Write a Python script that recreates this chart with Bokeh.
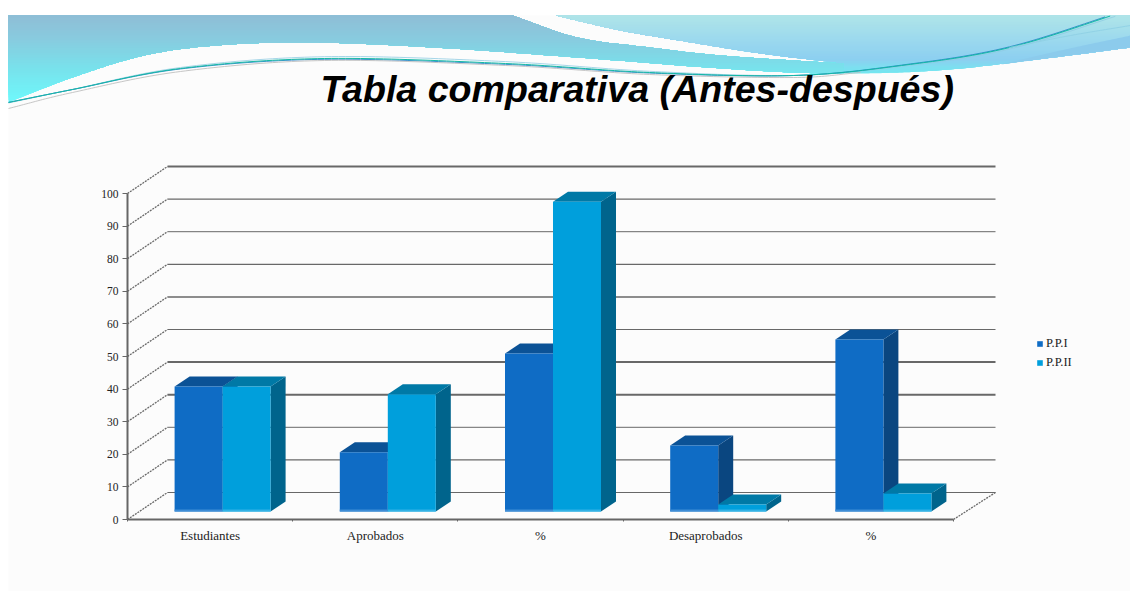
import numpy as np
from bokeh.plotting import figure
from bokeh.models import LinearAxis, FixedTicker, Label, Legend, LegendItem, Range1d
from bokeh.embed import file_html
from bokeh.resources import INLINE

# ---- data ----
categories = ["Estudiantes", "Aprobados", "%", "Desaprobados", "%"]
pp1_values = [40.8, 20.6, 50.9, 22.7, 55.2]
pp2_values = [40.8, 38.4, 97.5, 4.6, 8.0]
series_names = ["P.P.I", "P.P.II"]
y_ticks = [0, 10, 20, 30, 40, 50, 60, 70, 80, 90, 100]
title_text = "Tabla comparativa (Antes-después)"

# ---- layout ----
W, H = 1130, 591
X0, SX = 127.0, 165.2      # screenshot px of category 0, px per category
Y0, SY = 519.0, 3.26       # screenshot px of value 0, px per value
def X(px): return (np.asarray(px, dtype=float) - X0) / SX
def Y(py): return (Y0 - np.asarray(py, dtype=float)) / SY

WALL_DX, WALL_DY = 40 / SX, 27 / SY
WALL_RIGHT = 42 / SX
BAR_W = 48 / SX
BAR_DX, BAR_DY = 15 / SX, 10 / SY
BAR_CENTER = 0.5 + 12.5 / SX
FLOOR = 8 / SY

p = figure(width=W, height=H, output_backend="svg", toolbar_location=None,
           x_range=Range1d(float(X(0)), float(X(W))),
           y_range=Range1d(float(Y(H)), float(Y(0))),
           min_border=0, x_axis_type=None, y_axis_type=None,
           outline_line_color=None, background_fill_color="white",
           border_fill_color="white")
p.grid.visible = False

# ---- page backdrop and banner ----
p.quad(left=[float(X(8))], right=[float(X(W))], top=[float(Y(15))], bottom=[float(Y(H))],
       fill_color="#fcfcfc", line_color=None)

def smooth(pts, n=24):
    pts = np.array(pts, dtype=float)
    q = np.vstack([2 * pts[0] - pts[1], pts, 2 * pts[-1] - pts[-2]])
    out = []
    for i in range(1, len(q) - 2):
        for t in np.linspace(0, 1, n, endpoint=False):
            a, b, c, d = q[i - 1], q[i], q[i + 1], q[i + 2]
            out.append(0.5 * (2 * b + (c - a) * t + (2 * a - 5 * b + 4 * c - d) * t ** 2
                              + (3 * b - a - 3 * c + d) * t ** 3))
    out.append(pts[-1])
    return np.array(out)

def hexrgb(c): return np.array([int(c[i:i + 2], 16) for i in (1, 3, 5)], dtype=float)
def gradient(stops, y):
    ys = [s[0] for s in stops]
    rgb = [np.interp(y, ys, [hexrgb(s[1])[k] for s in stops]) for k in range(3)]
    return "#%02x%02x%02x" % tuple(int(round(v)) for v in rgb)

def layered(xs, top, bottom, stops, y1, y2, n=36):
    levels = np.linspace(y2, y1, n)
    for lv in levels:
        low = np.maximum(top, np.minimum(bottom, lv))
        px = np.r_[xs, xs[::-1]]
        py = np.r_[top, low[::-1]]
        p.patch(X(px), Y(py), fill_color=gradient(stops, lv), line_color=None)

main_bottom = smooth([(8, 102), (72, 77), (144, 55), (216, 45), (310, 42), (433, 47), (577, 57),
                      (721, 68), (829, 73), (937, 70), (1045, 58), (1130, 47)])
main_edge = smooth([(512, 15), (577, 37), (650, 47), (721, 55), (843, 63)])
right_edge = smooth([(555, 15), (620, 30), (685, 41), (760, 53), (843, 63)])

xs = np.linspace(555, 1130, 240)
rb = np.where(xs < 843, np.interp(xs, right_edge[:, 0], right_edge[:, 1]),
              np.interp(xs, main_bottom[:, 0], main_bottom[:, 1]))
layered(xs, np.full_like(xs, 15.0), rb,
        [(15, "#b0e5e8"), (40, "#9cd9ee"), (60, "#8ccff0"), (66, "#80dcf0"), (74, "#72e8f0")], 15, 74)

xs = np.linspace(8, 843, 340)
tp = np.where(xs < 512, 15.0, np.interp(xs, main_edge[:, 0], main_edge[:, 1]))
bt = np.interp(xs, main_bottom[:, 0], main_bottom[:, 1])
layered(xs, tp, bt, [(15, "#8fbdd5"), (40, "#88cbdf"), (70, "#78e2ec"), (102, "#6ef8fb")], 15, 102)

# darker sliver at the banner's right end, tapering into the lower edge
band = smooth([(1000, 64), (1060, 50), (1130, 35)])
band_low = smooth([(1130, 47), (1060, 56), (1000, 64)])
p.patch(X(np.r_[band[:, 0], band_low[:, 0]]), Y(np.r_[band[:, 1], band_low[:, 1]]),
        fill_color="#8ccbec", line_color=None)

wave = [(8, 102), (72, 89), (180, 68), (324, 58), (505, 63), (649, 72), (793, 75), (901, 65),
        (1009, 47), (1130, 9)]
c = smooth(wave)
span = np.sin((c[:, 0] - 60) * np.pi / 740)
for amp, col, w in [(-2.0, "#8fcbe2", 0.8), (0.9, "#2a86c8", 0.9), (0.0, "#14b8a4", 1.0)]:
    yy = c[:, 1] + amp * span
    keep = yy >= 15
    p.line(X(c[keep, 0]), Y(yy[keep]), line_color=col, line_width=w)
branch = smooth([(1009, 47), (1070, 35), (1130, 25)])
p.line(X(branch[:, 0]), Y(branch[:, 1]), line_color="#8fd0e4", line_width=0.9)
g = smooth([(8, 108), (72, 92), (180, 71), (324, 60), (505, 65), (649, 74), (793, 77), (860, 72)])
p.line(X(g[:, 0]), Y(g[:, 1]), line_color="#c0c0c0", line_width=0.9)

# ---- walls: gridlines on the back wall and diagonal ticks on the side ----
GRID_W = [1.0, 1.3, 1.0, 2.0, 2.0, 1.0, 1.5, 1.3, 1.0, 1.3, 1.8]
p.multi_line([[WALL_DX, 5 + WALL_RIGHT] for _ in y_ticks],
             [[v + WALL_DY, v + WALL_DY] for v in y_ticks],
             line_color="#686868", line_width=GRID_W)
p.multi_line([[0, WALL_DX] for _ in y_ticks],
             [[v, v + WALL_DY] for v in y_ticks],
             line_color="#6a6a6a", line_width=1.3, line_dash="2 1")
p.line([5, 5 + WALL_RIGHT], [0, WALL_DY], line_color="#6a6a6a", line_width=1.3, line_dash="2 1")

# ---- bars ----
def bars(values, offset, front, light, top_c, side_c, name):
    cx = np.arange(len(values)) + BAR_CENTER + offset * BAR_W
    l, r = cx - BAR_W / 2, cx + BAR_W / 2
    vals = np.array(values, dtype=float)
    p.patches([[a, a + BAR_DX, a + BAR_DX, a] for a in r],
              [[FLOOR, FLOOR + BAR_DY, v + BAR_DY, v] for v in vals],
              fill_color=side_c, line_color=None)
    p.patches([[a, a + BAR_DX, b + BAR_DX, b] for a, b in zip(l, r)],
              [[v, v + BAR_DY, v + BAR_DY, v] for v in vals],
              fill_color=top_c, line_color=None)
    rend = p.vbar(x=cx, width=BAR_W, bottom=FLOOR, top=vals, fill_color=front, line_color=None)
    p.vbar(x=cx, width=BAR_W, bottom=FLOOR, top=FLOOR + 2.0 / SY, fill_color=light, line_color=None)
    return rend

r1 = bars(pp1_values, -0.5, "#0f6cc5", "#3f8dd6", "#0b5296", "#0a4680", series_names[0])
r2 = bars(pp2_values, 0.5, "#009fdc", "#33b2e5", "#0079a6", "#00648c", series_names[1])

# ---- axes ----
yaxis = LinearAxis(ticker=FixedTicker(ticks=y_ticks), fixed_location=0, bounds=(0, 100),
                   axis_line_color="#666666", axis_line_width=2,
                   major_tick_line_color="#666666", major_tick_in=0, major_tick_out=5,
                   minor_tick_line_color=None,
                   major_label_text_font="Liberation Serif",
                   major_label_text_font_size="11.5px", major_label_text_color="#222222",
                   major_label_standoff=4)
p.add_layout(yaxis, "left")

centers = [i + 0.5 for i in range(len(categories))]
xaxis = LinearAxis(ticker=FixedTicker(ticks=centers, minor_ticks=list(range(len(categories) + 1))),
                   fixed_location=0, bounds=(0, 5),
                   major_label_overrides={c_: t for c_, t in zip(centers, categories)},
                   axis_line_color="#666666", axis_line_width=2,
                   major_tick_line_color=None, major_tick_in=0, major_tick_out=0,
                   minor_tick_line_color="#666666", minor_tick_in=0, minor_tick_out=2,
                   major_label_text_font="Liberation Serif",
                   major_label_text_font_size="13px", major_label_text_color="#222222",
                   major_label_standoff=6)
p.add_layout(xaxis, "below")

# ---- legend ----
legend = Legend(items=[LegendItem(label=series_names[0], renderers=[r1]),
                       LegendItem(label=series_names[1], renderers=[r2])],
                location=(1036, H - 370), orientation="vertical",
                background_fill_alpha=0, border_line_color=None,
                glyph_width=7, glyph_height=7, label_width=30, label_height=13,
                label_standoff=3, spacing=4, padding=0, margin=0,
                label_text_font="Liberation Serif", label_text_font_size="12.5px",
                label_text_color="#222222")
p.add_layout(legend, "center")

# ---- title ----
p.add_layout(Label(x=320, y=H - 101 + 13, x_units="screen", y_units="screen", text=title_text,
                   text_font="Liberation Sans", text_font_style="bold italic",
                   text_font_size="37.6px", text_color="#000000", text_baseline="alphabetic"))

open("out.html", "w").write(file_html(p, INLINE))
